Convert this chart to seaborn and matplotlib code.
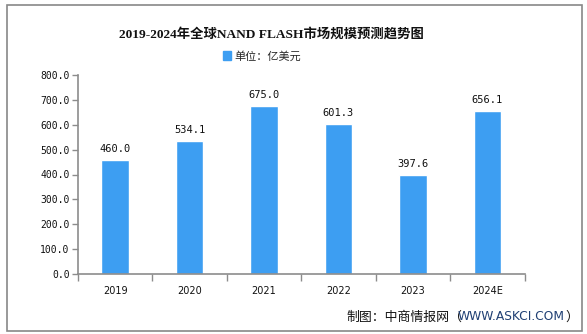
import matplotlib
matplotlib.use("Agg")
import matplotlib.pyplot as plt
import matplotlib.patches as mpatches
import seaborn as sns
import pandas as pd

years = ["2019", "2020", "2021", "2022", "2023", "2024E"]
market_size = [460.0, 534.1, 675.0, 601.3, 397.6, 656.1]
y_ticks = [0, 100, 200, 300, 400, 500, 600, 700, 800]

title = "2019-2024年全球NAND FLASH市场规模预测趋势图"
unit_label = "单位：亿美元"
source_prefix = "制图：中商情报网（"
source_site = "WWW.ASKCI.COM"
source_suffix = "）"

sns.set_theme(style="white")
plt.rcParams["font.family"] = ["DejaVu Sans", "Noto Sans CJK SC"]

bar_color = "#3d9ef2"
axis_color = "#8c8c8c"

df = pd.DataFrame({"year": years, "value": market_size})

fig = plt.figure(figsize=(5.87, 3.34), dpi=100)
fig.patch.set_facecolor("white")
# outer frame
fig.add_artist(mpatches.Rectangle((6.5 / 587, 3.5 / 334), 575 / 587, 326 / 334,
                                  transform=fig.transFigure, fill=False,
                                  edgecolor="#888888", linewidth=1.2))

ax = fig.add_axes([78 / 587, 60 / 334, 446.5 / 587, 199 / 334])
sns.barplot(data=df, x="year", y="value", color=bar_color, width=0.37,
            saturation=1, ax=ax)

ax.set_xlim(-0.5, len(years) - 0.5)
ax.set_ylim(0, 800)
ax.set_yticks(y_ticks)
ax.set_yticklabels([f"{v:.1f}" for v in y_ticks], family="DejaVu Sans Mono",
                   fontsize=7, color="#111111")
ax.set_xticks(range(len(years)))
ax.set_xticklabels(years, fontsize=7, color="#111111")
ax.set_xlabel("")
ax.set_ylabel("")

# category boundary ticks on the x axis
ax.set_xticks([i - 0.5 for i in range(len(years) + 1)], minor=True)
ax.tick_params(axis="x", which="major", length=0, pad=9)
ax.tick_params(axis="x", which="minor", length=5, color=axis_color, width=1,
               direction="out", bottom=True)
ax.tick_params(axis="y", length=4, color=axis_color, width=1, direction="out",
               left=True, pad=2)

for side in ["top", "right"]:
    ax.spines[side].set_visible(False)
for side in ["left", "bottom"]:
    ax.spines[side].set_color(axis_color)
    ax.spines[side].set_linewidth(1.2)
ax.grid(False)

for i, v in enumerate(market_size):
    ax.text(i, v + 24, f"{v:.1f}", ha="center", va="bottom",
            family="DejaVu Sans Mono", fontsize=7.5, color="#111111")

fig.text(271 / 587, 1 - 34 / 334, title, ha="center", va="center",
         fontsize=9.6, fontweight="bold",
         family=["Liberation Serif", "Noto Sans CJK SC"], color="#111111")

handle = mpatches.Patch(color=bar_color)
fig.legend([handle], [unit_label], loc="center", bbox_to_anchor=(262 / 587, 1 - 56 / 334),
           frameon=False, handlelength=0.7, handleheight=0.9,
           handletextpad=0.3, prop={"family": ["Noto Sans CJK SC"], "size": 8})

# source line: prefix, site in blue, closing bracket, chained left to right
t1 = fig.text(346 / 587, 1 - 317 / 334, source_prefix, ha="left", va="center",
              fontsize=9.3, family=["Noto Sans CJK SC"], color="#111111")
t2 = fig.text(0, 0, source_site, ha="left", va="center",
              fontsize=8.8, family=["DejaVu Sans"], color="#1f3f73")
t3 = fig.text(0, 0, source_suffix, ha="left", va="center",
              fontsize=9.3, family=["Noto Sans CJK SC"], color="#111111")
fig.canvas.draw()
r = fig.canvas.get_renderer()
inv = fig.transFigure.inverted()
b1 = t1.get_window_extent(r)
t2.set_position((inv.transform((b1.x1 - 4, 0))[0], 1 - 317 / 334))
b2 = t2.get_window_extent(r)
t3.set_position((inv.transform((b2.x1 + 1, 0))[0], 1 - 317 / 334))

fig.savefig("out.png", dpi=100)
